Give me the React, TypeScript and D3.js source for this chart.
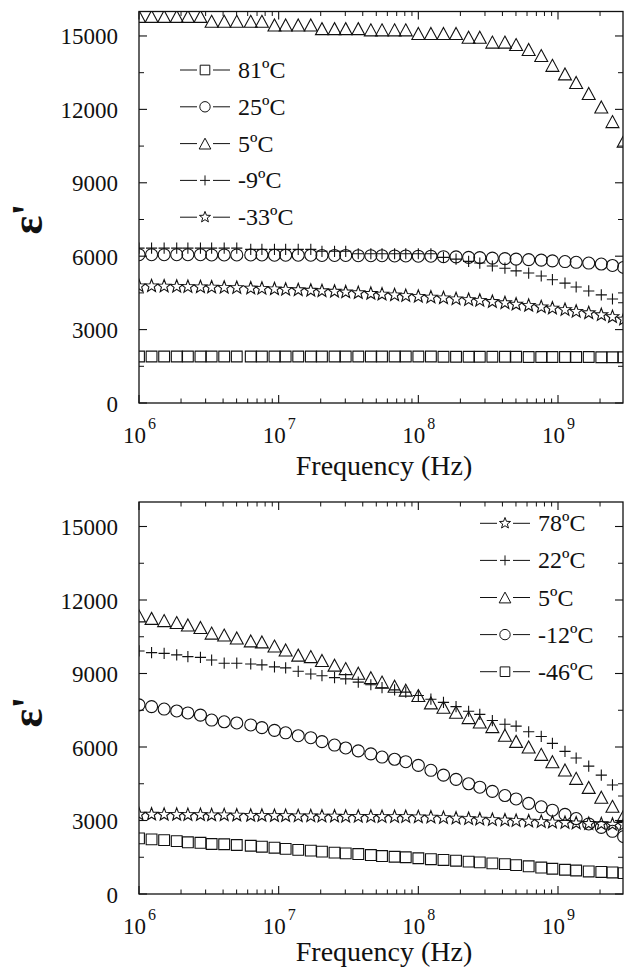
import React from 'react';
import * as d3 from 'd3';

// log10 of frequency (Hz) for each measured point
const logFreq = [6.00, 6.09, 6.18, 6.27, 6.35, 6.44, 6.52, 6.61, 6.70, 6.80, 6.88, 6.97, 7.05, 7.14, 7.23, 7.31, 7.40, 7.48, 7.57, 7.66, 7.74, 7.83, 7.91, 8.00, 8.09, 8.18, 8.27, 8.36, 8.44, 8.53, 8.62, 8.70, 8.79, 8.88, 8.96, 9.05, 9.13, 9.22, 9.31, 9.39, 9.47];

// Top panel
const topLabels = ['81ºC', '25ºC', '5ºC', '-9ºC', '-33ºC'];
const topSymbols = ['square', 'circle', 'triangle', 'plus', 'star'];
const top81 = [1900, 1900, 1900, 1900, 1900, 1900, 1900, 1900, 1900, 1900, 1900, 1900, 1900, 1900, 1900, 1900, 1900, 1900, 1900, 1900, 1900, 1900, 1900, 1900, 1900, 1890, 1890, 1890, 1890, 1890, 1890, 1890, 1880, 1880, 1880, 1880, 1880, 1880, 1870, 1870, 1870];
const top25 = [6060, 6060, 6060, 6060, 6060, 6060, 6050, 6050, 6050, 6050, 6050, 6040, 6040, 6040, 6040, 6030, 6030, 6030, 6020, 6020, 6020, 6010, 6010, 6000, 6000, 5980, 5970, 5950, 5940, 5920, 5900, 5880, 5860, 5840, 5810, 5780, 5750, 5720, 5680, 5620, 5540];
const top5 = [15800, 15800, 15800, 15800, 15800, 15800, 15600, 15600, 15600, 15600, 15600, 15450, 15450, 15450, 15450, 15300, 15300, 15300, 15300, 15250, 15250, 15250, 15250, 15100, 15100, 15100, 15100, 14950, 14950, 14750, 14750, 14650, 14450, 14200, 13800, 13450, 13100, 12650, 12100, 11500, 10700];
const topM9 = [6330, 6330, 6330, 6330, 6330, 6330, 6330, 6330, 6330, 6280, 6280, 6280, 6280, 6280, 6280, 6200, 6200, 6200, 6100, 6100, 6100, 6100, 6100, 6100, 6100, 5950, 5880, 5790, 5720, 5600, 5510, 5400, 5310, 5190, 5040, 4900, 4740, 4580, 4420, 4250, 4100];
const topM33 = [4780, 4780, 4770, 4760, 4750, 4740, 4730, 4720, 4710, 4690, 4680, 4660, 4640, 4620, 4600, 4580, 4560, 4530, 4500, 4470, 4440, 4410, 4380, 4350, 4320, 4290, 4250, 4220, 4190, 4140, 4090, 4030, 3980, 3920, 3870, 3810, 3740, 3680, 3600, 3520, 3420];
const topSeries = [top81, top25, top5, topM9, topM33];

// Bottom panel
const botLabels = ['78ºC', '22ºC', '5ºC', '-12ºC', '-46ºC'];
const botSymbols = ['star', 'plus', 'triangle', 'circle', 'square'];
const bot78 = [3250, 3250, 3240, 3240, 3230, 3230, 3220, 3220, 3210, 3200, 3200, 3190, 3190, 3180, 3180, 3170, 3170, 3160, 3160, 3160, 3150, 3150, 3150, 3140, 3130, 3110, 3090, 3070, 3050, 3030, 3010, 2990, 2970, 2950, 2930, 2910, 2890, 2870, 2860, 2840, 2830];
const bot22 = [9920, 9850, 9820, 9760, 9690, 9660, 9550, 9420, 9420, 9390, 9350, 9270, 9230, 9090, 8980, 8910, 8830, 8780, 8650, 8540, 8420, 8330, 8240, 8100, 7950, 7820, 7650, 7460, 7330, 7080, 6930, 6850, 6620, 6430, 6150, 5820, 5550, 5220, 4850, 4450, 4000];
const bot5 = [11350, 11250, 11160, 11080, 10980, 10880, 10650, 10570, 10450, 10330, 10290, 10120, 9960, 9750, 9690, 9530, 9340, 9200, 9010, 8830, 8650, 8480, 8320, 8100, 7800, 7620, 7420, 7200, 7020, 6830, 6480, 6230, 6000, 5700, 5400, 5060, 4720, 4350, 3950, 3580, 3200];
const botM12 = [7720, 7650, 7550, 7470, 7390, 7300, 7100, 7030, 6980, 6900, 6790, 6680, 6580, 6460, 6380, 6220, 6080, 5960, 5840, 5720, 5590, 5500, 5400, 5250, 5050, 4850, 4680, 4500, 4360, 4190, 4020, 3880, 3700, 3560, 3420, 3250, 3080, 2860, 2720, 2560, 2340];
const botM46 = [2270, 2230, 2200, 2160, 2110, 2090, 2040, 2030, 2000, 1970, 1930, 1890, 1840, 1800, 1770, 1730, 1690, 1660, 1630, 1590, 1550, 1520, 1500, 1460, 1420, 1390, 1360, 1320, 1290, 1250, 1220, 1180, 1130, 1080, 1030, 990, 960, 920, 900, 880, 850];
const botSeries = [bot78, bot22, bot5, botM12, botM46];

const yTicks = [0, 3000, 6000, 9000, 12000, 15000];
const yMinorTicks = [1500, 4500, 7500, 10500, 13500];
const xDecades = [6, 7, 8, 9];

// custom d3 symbol types (size = half-extent squared)
const symbolTypes: Record<string, any> = {
  square: { draw(c: any, s: number) { const r = Math.sqrt(s); c.rect(-r, -r, 2 * r, 2 * r); } },
  circle: { draw(c: any, s: number) { const r = Math.sqrt(s); c.moveTo(r, 0); c.arc(0, 0, r, 0, 2 * Math.PI); } },
  triangle: { draw(c: any, s: number) { const r = Math.sqrt(s); c.moveTo(0, -r); c.lineTo(r * 1.08, r); c.lineTo(-r * 1.08, r); c.closePath(); } },
  plus: { draw(c: any, s: number) { const r = Math.sqrt(s); c.moveTo(-r, 0); c.lineTo(r, 0); c.moveTo(0, -r); c.lineTo(0, r); } },
  star: { draw(c: any, s: number) {
    const R = Math.sqrt(s) * 1.12, ri = R * 0.42;
    for (let i = 0; i < 10; i++) {
      const a = -Math.PI / 2 + (i * Math.PI) / 5;
      const rr = i % 2 === 0 ? R : ri;
      const x = Math.cos(a) * rr, y = Math.sin(a) * rr;
      if (i === 0) c.moveTo(x, y); else c.lineTo(x, y);
    }
    c.closePath();
  } },
};
const plotSize: Record<string, number> = { square: 5.4 * 5.4, circle: 6 * 6, triangle: 6 * 6, plus: 5.6 * 5.6, star: 6 * 6 };
const legSize: Record<string, number> = { square: 4.8 * 4.8, circle: 5.2 * 5.2, triangle: 5.4 * 5.4, plus: 5 * 5, star: 5.2 * 5.2 };

const symPath = (name: string, size: number) => d3.symbol().type(symbolTypes[name]).size(size)() as string;

const X0 = 139, X1 = 623;

function T(props: any) {
  const { children, size, ...rest } = props;
  return (
    <text {...rest} fontFamily="Liberation Serif" fontSize={size} style={{ fontFamily: 'Liberation Serif', fontSize: size + 'px' }} fill="#111">{children}</text>
  );
}

interface PanelProps {
  id: string;
  yTop: number;
  yBot: number;
  series: number[][];
  labels: string[];
  symbols: string[];
  legX: number;
  legY: number;
  legStep: number;
  epsY: number;
  titleY: number;
}

function Panel({ id, yTop, yBot, series, labels, symbols, legX, legY, legStep, epsY, titleY }: PanelProps) {
  const x = d3.scaleLog().domain([1e6, 2.92e9]).range([X0, X1]);
  const y = d3.scaleLinear().domain([0, 16000]).range([yBot, yTop]);
  const minorX: number[] = [];
  for (let d = 6; d <= 9; d++) for (let m = 2; m <= 9; m++) { const v = m * 10 ** d; if (v < 2.92e9) minorX.push(v); }
  const ink = '#111';
  return (
    <g>
      <defs>
        <clipPath id={`clip-${id}`}>
          <rect x={X0} y={yTop} width={X1 - X0} height={yBot - yTop} />
        </clipPath>
      </defs>
      <rect x={X0} y={yTop} width={X1 - X0} height={yBot - yTop} fill="none" stroke={ink} strokeWidth={1.3} />
      {yTicks.map((t) => (
        <g key={`y${t}`}>
          <line x1={X0} x2={X0 + 8} y1={y(t)} y2={y(t)} stroke={ink} strokeWidth={1.1} />
          <line x1={X1} x2={X1 - 8} y1={y(t)} y2={y(t)} stroke={ink} strokeWidth={1.1} />
          <T x={118} y={y(t) + 8.5} textAnchor="end" size={23}>{String(t)}</T>
        </g>
      ))}
      {yMinorTicks.map((t) => (
        <g key={`ym${t}`}>
          <line x1={X0} x2={X0 + 5} y1={y(t)} y2={y(t)} stroke={ink} strokeWidth={1} />
          <line x1={X1} x2={X1 - 5} y1={y(t)} y2={y(t)} stroke={ink} strokeWidth={1} />
        </g>
      ))}
      {xDecades.map((d) => (
        <g key={`x${d}`}>
          <line x1={x(10 ** d)} x2={x(10 ** d)} y1={yBot} y2={yBot - 8} stroke={ink} strokeWidth={1.1} />
          <line x1={x(10 ** d)} x2={x(10 ** d)} y1={yTop} y2={yTop + 8} stroke={ink} strokeWidth={1.1} />
          <T x={x(10 ** d) + 7} y={yBot + 40} textAnchor="end" size={23}>10</T>
          <T x={x(10 ** d) + 9} y={yBot + 26} textAnchor="start" size={16}>{String(d)}</T>
        </g>
      ))}
      {minorX.map((v) => (
        <g key={`xm${v}`}>
          <line x1={x(v)} x2={x(v)} y1={yBot} y2={yBot - 4.5} stroke={ink} strokeWidth={1} />
          <line x1={x(v)} x2={x(v)} y1={yTop} y2={yTop + 4.5} stroke={ink} strokeWidth={1} />
        </g>
      ))}
      <T x={(X0 + X1) / 2 + 3} y={titleY} textAnchor="middle" size={28}>Frequency (Hz)</T>
      <T transform={`translate(42,${epsY}) rotate(-90)`} textAnchor="middle" size={44} fontWeight="bold">ε'</T>
      <g clipPath={`url(#clip-${id})`}>
        {series.map((vals, si) => (
          <g key={`s${si}`}>
            {vals.map((v, i) => (
              <path key={i} d={symPath(symbols[si], plotSize[symbols[si]])}
                transform={`translate(${x(10 ** logFreq[i])},${y(v)})`}
                fill="none" stroke={ink} strokeWidth={1.1} />
            ))}
          </g>
        ))}
      </g>
      {labels.map((lab, i) => {
        const cy = legY + i * legStep;
        return (
          <g key={`l${i}`}>
            <line x1={legX} x2={legX + 17} y1={cy} y2={cy} stroke={ink} strokeWidth={1} />
            <line x1={legX + 33} x2={legX + 50} y1={cy} y2={cy} stroke={ink} strokeWidth={1} />
            <path d={symPath(symbols[i], legSize[symbols[i]])} transform={`translate(${legX + 25},${cy})`} fill="none" stroke={ink} strokeWidth={1} />
            <T x={legX + 58} y={cy + 8} size={24}>{lab}</T>
          </g>
        );
      })}
    </g>
  );
}

export default function App() {
  return (
    <svg width={624} height={969} fontFamily="Liberation Serif" style={{ position: 'absolute', left: 0, top: 0, fontFamily: 'Liberation Serif' }}>
      <rect x={0} y={0} width={624} height={969} fill="#fff" />
      <Panel id="top" yTop={11.5} yBot={403} series={topSeries} labels={topLabels} symbols={topSymbols}
        legX={180} legY={70} legStep={36.8} epsY={219} titleY={475} />
      <Panel id="bot" yTop={502} yBot={894} series={botSeries} labels={botLabels} symbols={botSymbols}
        legX={480} legY={523.3} legStep={37.1} epsY={712} titleY={961} />
    </svg>
  );
}
